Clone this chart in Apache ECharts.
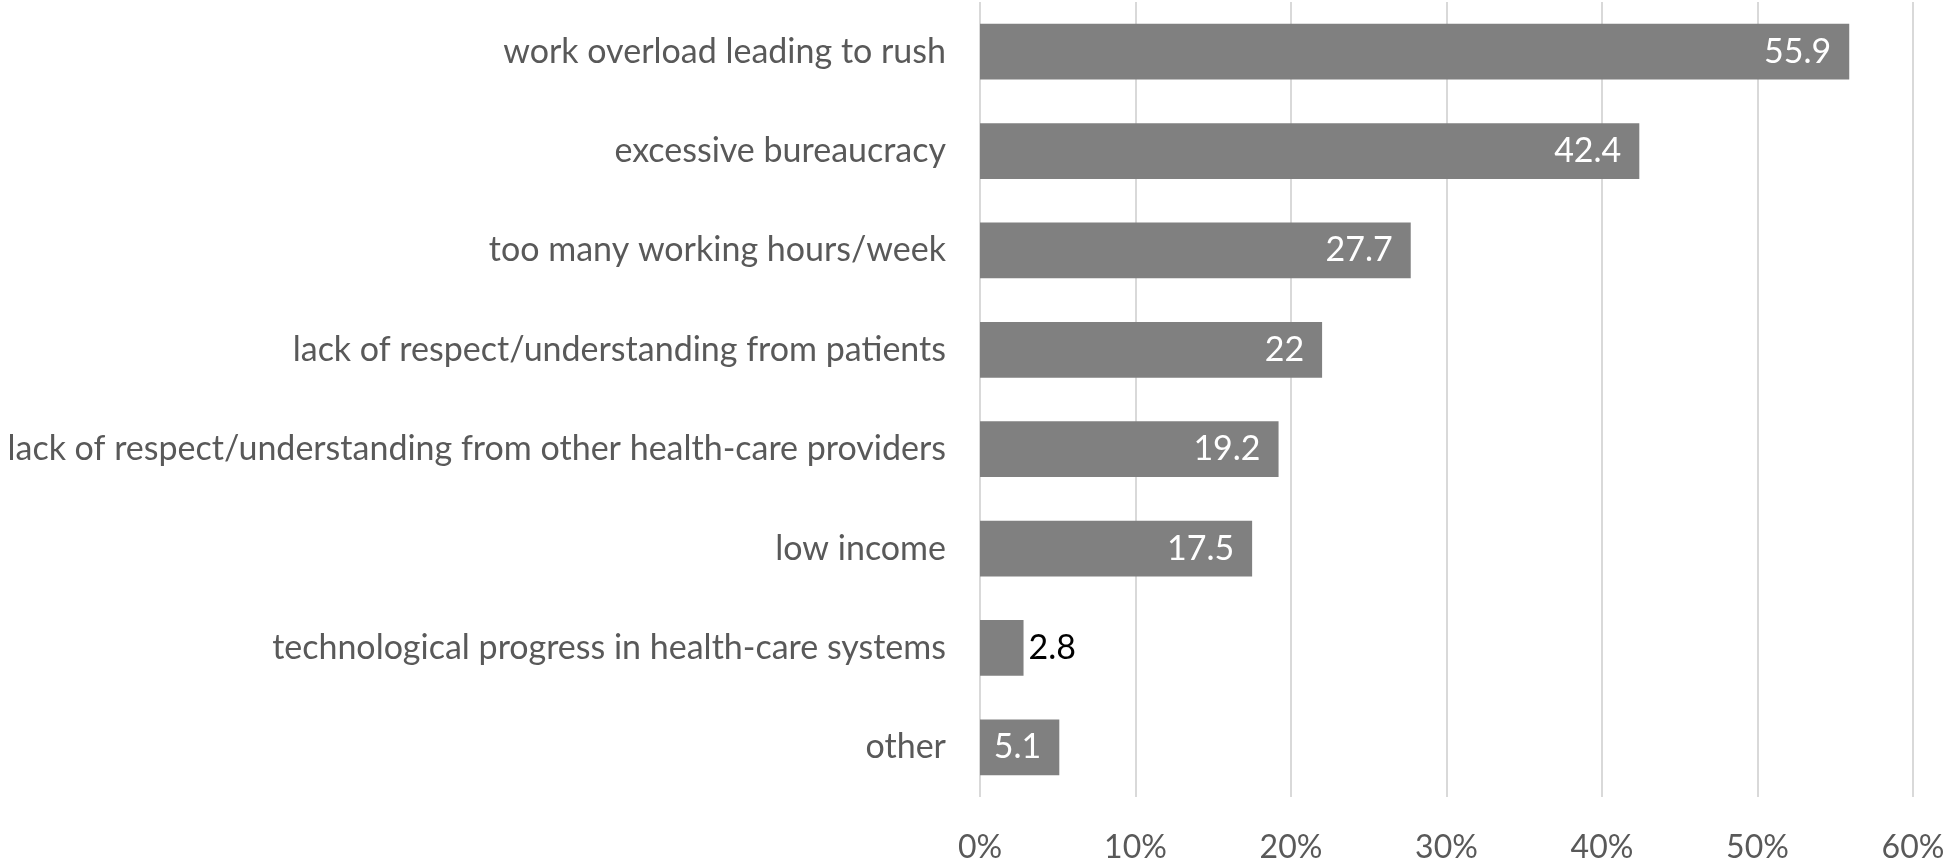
<!DOCTYPE html>
<html>
<head>
<meta charset="utf-8">
<script src="https://cdn.jsdelivr.net/npm/echarts@6/dist/echarts.min.js"></script>
<style>html,body{margin:0;padding:0;background:#fff}#c{width:1946px;height:859px}</style>
</head>
<body>
<div id="c"></div>
<script>
var categories = [
  "work overload leading to rush",
  "excessive bureaucracy",
  "too many working hours/week",
  "lack of respect/understanding from patients",
  "lack of respect/understanding from other health-care providers",
  "low income",
  "technological progress in health-care systems",
  "other"
];
var values = [55.9, 42.4, 27.7, 22, 19.2, 17.5, 2.8, 5.1];
var tickLabels = ["0%", "10%", "20%", "30%", "40%", "50%", "60%"];

var FONT = 'Lato, "Open Sans", sans-serif';
var chart = echarts.init(document.getElementById('c'), null, {renderer: 'canvas'});
var seriesData = values.map(function (v) {
  var small = v < 4;
  return {
    value: v,
    label: small ? {position: 'right', distance: 5, color: '#000000'} : {position: 'insideRight', distance: 18, color: '#ffffff'}
  };
});
chart.setOption({
  animation: false,
  backgroundColor: '#ffffff',
  grid: {left: 980, right: 33, top: 2, bottom: 62, containLabel: false, outerBoundsMode: 'none'},
  xAxis: {
    type: 'value', min: 0, max: 60, interval: 10,
    axisLine: {show: false}, axisTick: {show: false},
    splitLine: {show: true, lineStyle: {color: '#d9d9d9', width: 2}},
    axisLabel: {
      margin: 35, color: '#595959', fontSize: 32, fontFamily: FONT,
      formatter: function (v) { return tickLabels[Math.round(v / 10)]; }
    }
  },
  yAxis: {
    type: 'category', data: categories, inverse: true,
    axisLine: {show: false}, axisTick: {show: false}, splitLine: {show: false},
    axisLabel: {margin: 34, color: '#595959', fontSize: 34, fontFamily: FONT}
  },
  series: [{
    type: 'bar', data: seriesData, barCategoryGap: '44%',
    itemStyle: {color: '#808080'},
    label: {show: true, fontSize: 34, fontFamily: FONT, formatter: function (p) { return String(p.value); }}
  }]
});
</script>
</body>
</html>
